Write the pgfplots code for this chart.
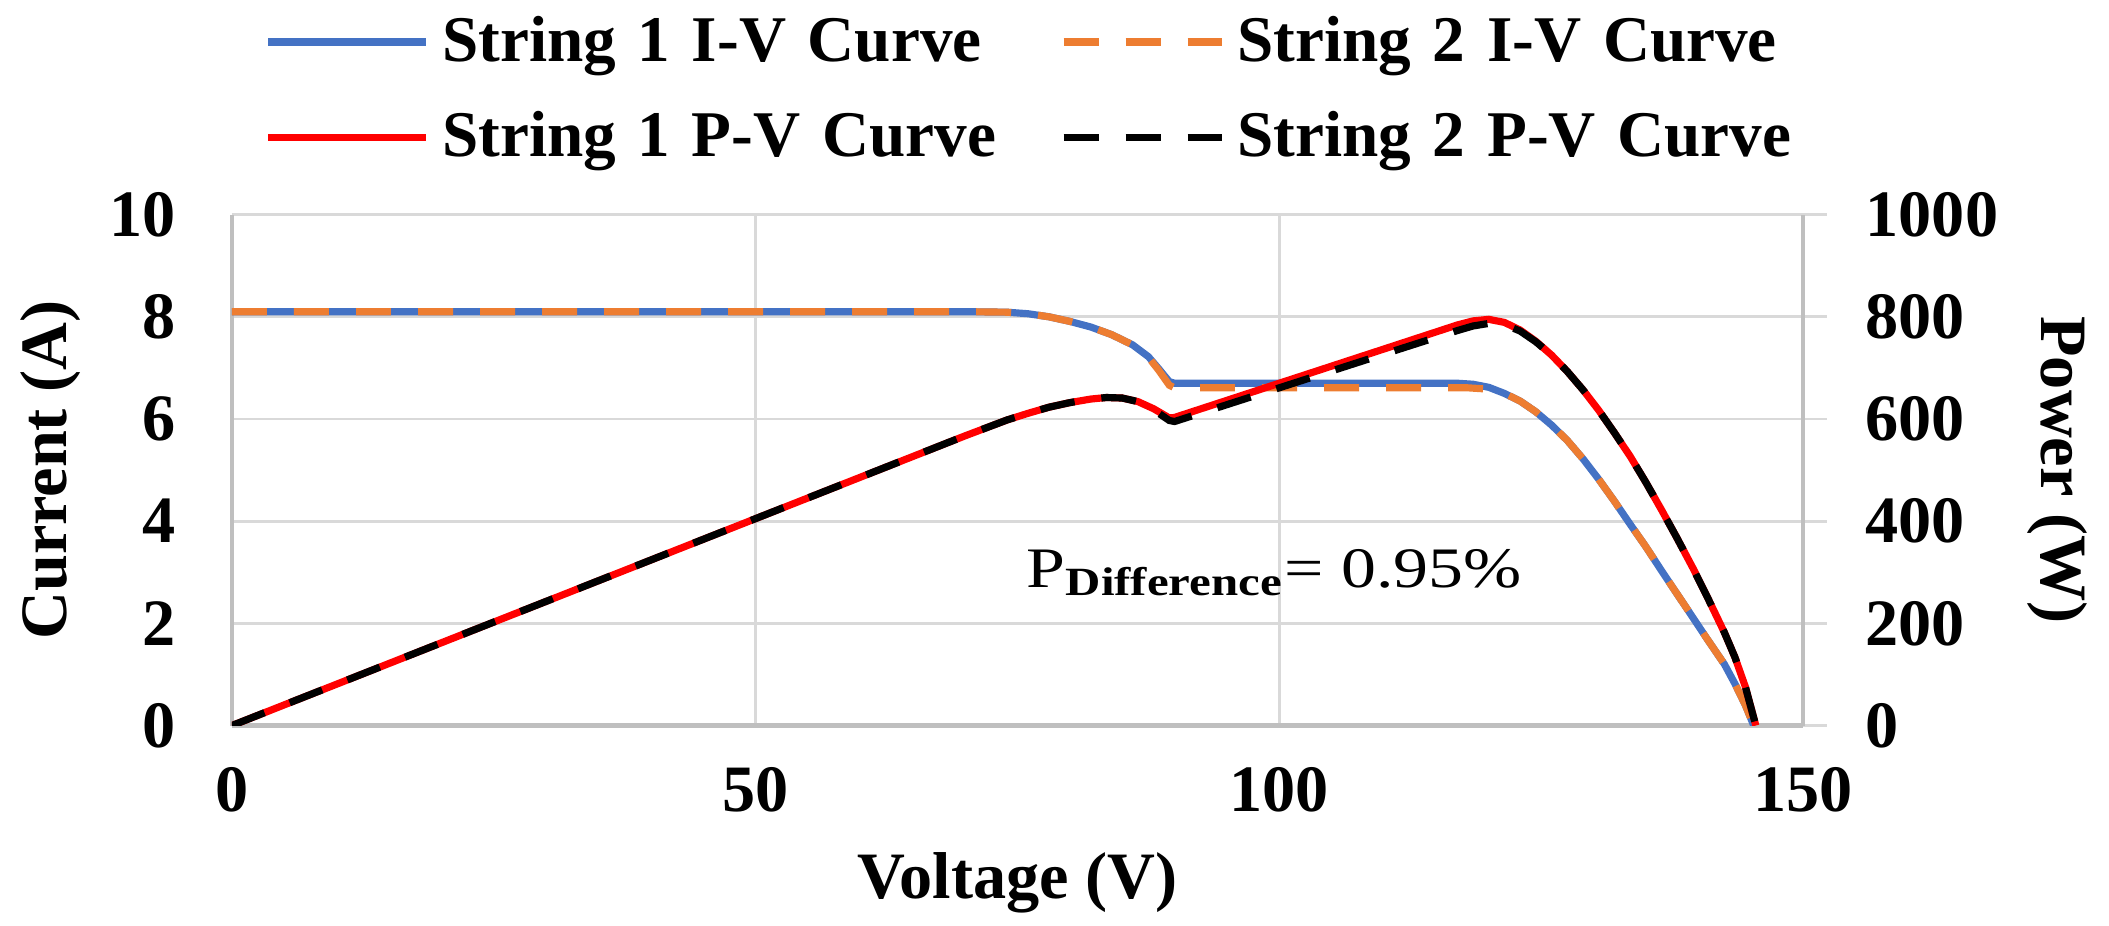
\documentclass[border=0pt]{standalone}
\usepackage{fontspec}
\setmainfont{Liberation Serif}
\newfontfamily\annfont{Liberation Serif}[FakeStretch=1.22]
\usepackage{pgfplots}
\pgfplotsset{compat=1.18}
\usepackage{pgfplotstable}
\definecolor{cblue}{HTML}{4472C4}
\definecolor{corange}{HTML}{ED7D31}
\definecolor{cgrid}{HTML}{D9D9D9}
\definecolor{caxis}{HTML}{BFBFBF}

\pgfplotstableread{
V I
0 8.10
20 8.10
40 8.10
60 8.10
70 8.10
74 8.09
76 8.06
78 8.00
80 7.91
82 7.80
84 7.65
86 7.45
87.5 7.22
88.5 6.98
89.5 6.73
90 6.70
117 6.70
118.5 6.68
120 6.62
121.5 6.50
123 6.35
124.5 6.14
126 5.88
127.5 5.58
129 5.22
130.5 4.82
132 4.39
133.5 3.94
135 3.50
136.5 3.03
138 2.57
139.5 2.11
141 1.65
142.5 1.20
143.5 0.82
144.5 0.40
145.3 0
}\ivone

\pgfplotstableread{
V I
0 8.10
20 8.10
40 8.10
60 8.10
70 8.10
74 8.09
76 8.06
78 8.00
80 7.91
82 7.80
84 7.65
86 7.45
87.5 7.21
88.5 6.95
89.5 6.66
90 6.61
118 6.61
119.5 6.59
121 6.53
121.5 6.50
123 6.35
124.5 6.14
126 5.88
127.5 5.58
129 5.22
130.5 4.82
132 4.39
133.5 3.94
135 3.50
136.5 3.03
138 2.57
139.5 2.11
141 1.65
142.5 1.20
143.5 0.82
144.5 0.40
145.3 0
}\ivtwo

\pgfplotstableread{
V P
0 0
20 162
40 324
60 486
70 567
74 598
76 611
78 623
80 632
82 639
83.5 642
85 641
86.5 634
88 620
89.5 602
90 603
100 670
110 737
117 784
118.5 792
120 795
121.5 789
123 774
124.5 752
126 725
127.5 693
129 657
130.5 617
132 573
133.5 527
135 476
136.5 422
138 366
139.5 308
141 246
142.5 182
143.5 134
144.5 76
145.5 0
}\pvone

\pgfplotstableread{
V P
0 0
20 162
40 324
60 486
70 567
74 598
76 611
78 623
80 632
82 639
83.5 642
85 641
86.5 634
88 618
89.5 597
90 595
100 661
110 727
117 773
118.5 782
120 787
121.5 785
123 772
124.5 751
126 725
127.5 693
129 657
130.5 617
132 573
133.5 527
135 476
136.5 422
138 366
139.5 308
141 246
142.5 182
143.5 134
144.5 76
145.5 0
}\pvtwo

\begin{document}
\begin{tikzpicture}
\pgfplotsset{
  common/.style={
    scale only axis, width=296.4pt, height=96.4pt,
    xmin=0, xmax=150,
    /pgf/number format/assume math mode=true,
    /pgf/number format/1000 sep={},
    tick label style={font=\bfseries\fontsize{12.5}{14}\selectfont},
  }
}
\begin{axis}[common,
  ymin=0, ymax=10,
  axis x line*=bottom, axis y line*=left,
  x axis line style={caxis, line width=0.8pt},
  y axis line style={caxis, line width=0.6pt},
  xtick={0,50,100,150}, ytick={0,2,...,10},
  major tick length=0pt,
  grid=major, major grid style={cgrid, line width=0.55pt},
  xticklabel style={yshift=-4.4pt},
  yticklabel style={xshift=-7.1pt},
  xlabel={Voltage (V)}, ylabel={Current (A)},
  every axis x label/.style={at={(axis description cs:0.5,-0.3377)}, anchor=base, font=\bfseries\fontsize{12.5}{15}\selectfont},
  every axis y label/.style={at={(axis description cs:-0.1152,0.5)}, anchor=center, rotate=90, font=\bfseries\fontsize{12.5}{15}\selectfont},
  legend columns=2,
  legend cell align=left,
  legend image code/.code={\draw[#1] (0pt,0pt) -- (29.8pt,0pt);},
  legend style={draw=none, fill=none,
    at={(axis description cs:0.0209,1.400)}, anchor=north west,
    inner sep=0pt, outer sep=0pt,
    nodes={inner sep=0pt, text height=9.6pt, text depth=2.4pt, font=\bfseries\fontsize{12.3}{14}\selectfont, text width=116.6pt, align=left},
    /tikz/every odd column/.append style={column sep=2.3pt},
    row sep=6pt},
]
\addplot[cblue, line width=1.35pt] table[x=V, y=I] {\ivone};
\addplot[corange, line width=1.35pt, dash pattern=on 6.6pt off 5.1pt] table[x=V, y=I] {\ivtwo};
\addlegendimage{red, line width=1.35pt}
\addlegendimage{black, line width=1.35pt, dash pattern=on 6.6pt off 5.1pt}
\legend{String 1 I-V Curve, String 2 I-V Curve, String 1 P-V Curve, String 2 P-V Curve}
\node[anchor=base west, inner sep=0pt, font=\annfont\fontsize{10.8}{12}\selectfont] at (axis cs:75.8,2.71) {P\textsubscript{\bfseries Difference}= 0.95\%};
\end{axis}
\begin{axis}[common,
  ymin=0, ymax=1000,
  axis y line*=right, axis x line=none,
  y axis line style={caxis, line width=0.6pt},
  xtick=\empty,
  ytick={0,200,...,1000},
  tick align=outside, major tick length=4.5pt,
  tick style={cgrid, line width=0.55pt},
  yticklabel style={xshift=3.8pt},
  ylabel={Power (W)},
  every axis y label/.style={at={(axis description cs:1.1617,0.5)}, anchor=center, rotate=-90, font=\bfseries\fontsize{12.5}{15}\selectfont},
]
\addplot[red, line width=1.35pt] table[x=V, y=P] {\pvone};
\addplot[black, line width=1.35pt, dash pattern=on 6.6pt off 5.1pt] table[x=V, y=P] {\pvtwo};
\end{axis}
\pgfresetboundingbox
\useasboundingbox (-43.77pt,-37.64pt) rectangle (354.15pt,136.89pt);
\end{tikzpicture}
\end{document}
